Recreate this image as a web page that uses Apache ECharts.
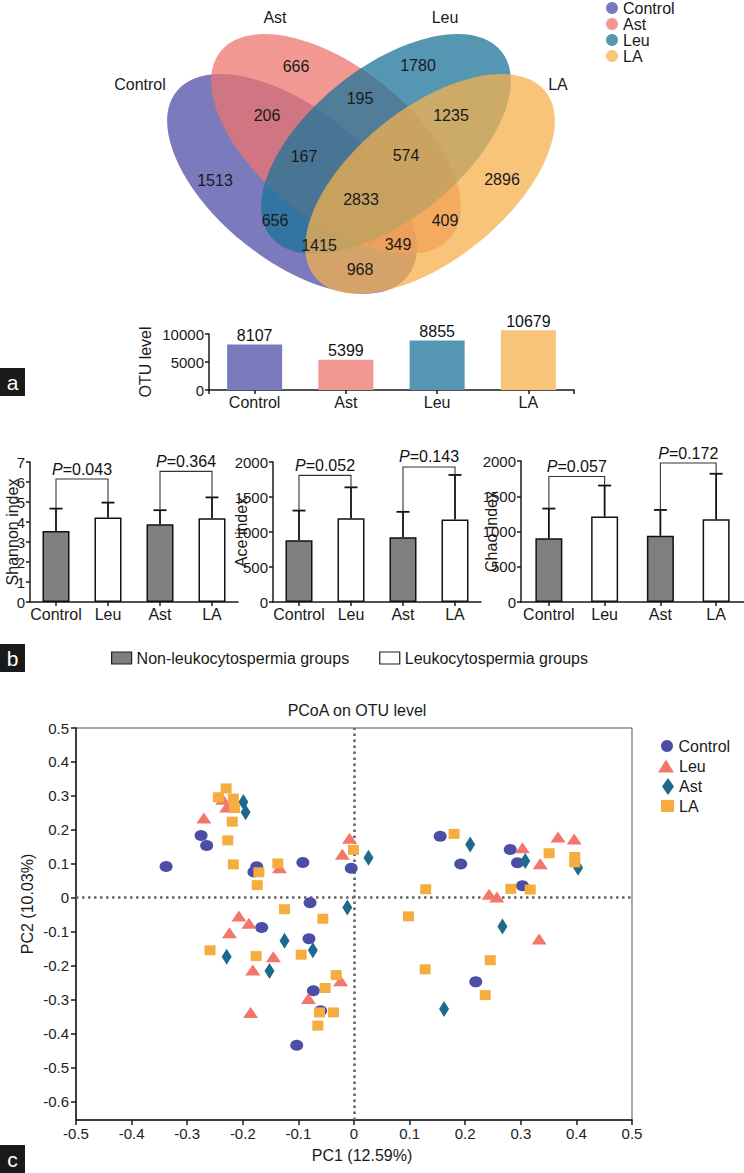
<!DOCTYPE html>
<html><head><meta charset="utf-8">
<script src="https://cdn.jsdelivr.net/npm/echarts@6/dist/echarts.min.js"></script>
<style>html,body{margin:0;padding:0;background:#fff}#c{width:744px;height:1173px}</style>
</head><body><div id="c"></div>
<script>
// ---------------- DATA ----------------
const setNames = ['Control', 'Ast', 'Leu', 'LA'];
const otuTotals = [8107, 5399, 8855, 10679];
const otuTicks = [0, 5000, 10000];

const vennRegionNames = ['Control only', 'Ast only', 'Leu only', 'LA only',
  'Control∩Ast', 'Ast∩Leu', 'Leu∩LA', 'Control∩Leu', 'Ast∩LA', 'Control∩LA',
  'Control∩Ast∩Leu', 'Ast∩Leu∩LA', 'Control∩Leu∩LA', 'Control∩Ast∩LA', 'All'];
const vennCounts = [1513, 666, 1780, 2896, 206, 195, 1235, 656, 409, 968, 167, 574, 1415, 349, 2833];

const diversityCats = ['Control', 'Leu', 'Ast', 'LA'];
const shannonMean = [3.55, 4.22, 3.89, 4.19];
const shannonSD = [1.12, 0.75, 0.70, 1.04];
const shannonBracket = [6.15, 6.53];
const shannonP = ['0.043', '0.364'];
const aceMean = [883, 1197, 926, 1178];
const aceSD = [423, 441, 362, 637];
const aceBracket = [1809, 1929];
const aceP = ['0.052', '0.143'];
const chaoMean = [903, 1211, 940, 1174];
const chaoSD = [422, 441, 366, 645];
const chaoBracket = [1780, 1971];
const chaoP = ['0.057', '0.172'];
const bracketPairs = [[0, 1], [2, 3]];
const groupNames = ['Non-leukocytospermia groups', 'Leukocytospermia groups'];

const pcoaGroups = ['Control', 'Leu', 'Ast', 'LA'];
const pcoaControl = [[-0.338,0.092],[-0.275,0.183],[-0.265,0.154],[-0.175,0.091],[-0.180,0.076],[-0.092,0.104],
  [-0.005,0.087],[-0.079,-0.015],[-0.166,-0.088],[-0.081,-0.121],[-0.073,-0.274],[-0.060,-0.333],[-0.103,-0.435],
  [0.155,0.181],[0.192,0.099],[0.281,0.142],[0.294,0.103],[0.303,0.035],[0.219,-0.248]];
const pcoaLeu = [[-0.270,0.235],[-0.229,0.267],[-0.236,0.290],[-0.134,0.088],[-0.008,0.175],[-0.021,0.128],
  [-0.207,-0.054],[-0.189,-0.075],[-0.224,-0.103],[-0.145,-0.174],[-0.182,-0.213],[-0.082,-0.297],[-0.024,-0.245],
  [-0.186,-0.338],[0.367,0.179],[0.396,0.173],[0.303,0.147],[0.335,0.100],[0.243,0.010],[0.257,0.002],[0.333,-0.122]];
const pcoaAst = [[-0.199,0.282],[-0.195,0.252],[0.026,0.118],[-0.012,-0.029],[-0.125,-0.127],[-0.074,-0.155],
  [-0.229,-0.174],[-0.152,-0.216],[0.209,0.157],[0.308,0.108],[0.403,0.088],[0.267,-0.085],[0.162,-0.328]];
const pcoaLA = [[-0.244,0.296],[-0.230,0.322],[-0.217,0.292],[-0.215,0.264],[-0.219,0.224],[-0.227,0.169],
  [-0.217,0.098],[-0.171,0.075],[-0.174,0.037],[-0.137,0.101],[-0.001,0.141],[-0.125,-0.034],[-0.056,-0.062],
  [-0.259,-0.155],[-0.176,-0.172],[-0.095,-0.168],[-0.032,-0.228],[-0.052,-0.266],[-0.062,-0.338],[-0.037,-0.338],
  [-0.065,-0.377],[0.180,0.188],[0.351,0.131],[0.397,0.120],[0.397,0.104],[0.282,0.026],[0.317,0.024],[0.129,0.025],
  [0.098,-0.055],[0.128,-0.211],[0.245,-0.184],[0.236,-0.287]];
const pcoaXTicks = [-0.5,-0.4,-0.3,-0.2,-0.1,0,0.1,0.2,0.3,0.4,0.5];
const pcoaYTicks = [-0.6,-0.5,-0.4,-0.3,-0.2,-0.1,0,0.1,0.2,0.3,0.4,0.5];

// ---------------- LAYOUT / STYLE ----------------
const FONT = "'Liberation Sans', Arial, Helvetica, sans-serif";
const INK = '#1a1a1a';
const vennFill = ['rgba(78,78,167,0.75)', 'rgba(238,118,111,0.75)', 'rgba(28,116,154,0.75)', 'rgba(244,176,78,0.75)'];
const setColors = ['#7a7abd', '#f29893', '#5597b3', '#f7c47a'];
const vennGeom = [{cx:292, cy:184, dir:-1}, {cx:336, cy:144, dir:-1}, {cx:386, cy:144, dir:1}, {cx:430, cy:184, dir:1}];
const vennRx = 148, vennRy = 76, vennAngle = 38.7 * Math.PI / 180;
const vennLabelPos = [[215,180],[296,66],[418,65],[502,179],[267,115],[360,98],[451,115],[275,220],[445,220],
  [360,269],[304,156],[406,155],[319,245],[398,244],[361,199]];
const vennSetLabelPos = [[140,84],[275,17],[445,17],[558,84]];
const pcoaColors = {Control:'#4b4ea6', Leu:'#f2766b', Ast:'#1d6a8c', LA:'#f6ad3f'};
const pcoaSymbols = {Control:'circle', Leu:'triangle', Ast:'diamond', LA:'rect'};
const pcoaSizes = {Control:[13,11], Leu:[15,11], Ast:[10,16], LA:[11,10]};
const pcoaData = {Control:pcoaControl, Leu:pcoaLeu, Ast:pcoaAst, LA:pcoaLA};

const chart = echarts.init(document.getElementById('c'), null, {renderer:'svg'});

const graphic = [];
vennGeom.forEach((g, i) => {
  graphic.push({type:'ellipse', x:g.cx, y:g.cy, rotation:g.dir * vennAngle,
    shape:{cx:0, cy:0, rx:vennRx, ry:vennRy}, style:{fill:vennFill[i]}});
});
setNames.forEach((n, i) => {
  graphic.push({type:'text', x:vennSetLabelPos[i][0], y:vennSetLabelPos[i][1],
    style:{text:n, fontSize:16, fontFamily:FONT, fill:INK, align:'center', verticalAlign:'middle'}});
});
vennCounts.forEach((v, i) => {
  graphic.push({type:'text', x:vennLabelPos[i][0], y:vennLabelPos[i][1],
    style:{text:String(v), fontSize:16, fontFamily:FONT, fill:INK, align:'center', verticalAlign:'middle'}});
});
[['a', 368], ['b', 644], ['c', 1145]].forEach(([t, y]) => {
  graphic.push({type:'rect', shape:{x:0, y:y, width:25, height:28}, style:{fill:'#1a1a1a'}});
  graphic.push({type:'text', x:12.5, y:y + 14, style:{text:t, fontSize:21, fontFamily:FONT, fill:'#fff', align:'center', verticalAlign:'middle'}});
});
graphic.push({type:'text', x:357, y:710, style:{text:'PCoA on OTU level', fontSize:16, fontFamily:FONT, fill:INK, align:'center', verticalAlign:'middle'}});
// zero reference lines of the PCoA plot are drawn by markLine below

function axisCommon() {
  return {
    axisLine:{show:true, onZero:false, lineStyle:{color:INK, width:1.5}},
    axisTick:{show:true, length:4, lineStyle:{color:INK, width:1.5}},
    axisLabel:{color:INK, fontSize:15, fontFamily:FONT},
    splitLine:{show:false},
    nameMoveOverlap:false,
    nameTextStyle:{color:INK, fontSize:16, fontFamily:FONT}
  };
}
const plain = v => String(v);
function catAxis(grid, data) {
  const a = axisCommon();
  return Object.assign(a, {type:'category', gridIndex:grid, data:data,
    axisTick:{show:true, alignWithLabel:true, length:4, lineStyle:{color:INK, width:1.5}},
    axisLabel:{color:INK, fontSize:16, fontFamily:FONT, interval:0, margin:4}});
}
function valAxis(grid, min, max, interval, name, gap) {
  const a = axisCommon();
  return Object.assign(a, {type:'value', gridIndex:grid, min:min, max:max, interval:interval,
    name:name, nameLocation:'middle', nameGap:gap,
    axisLabel:{color:INK, fontSize:15, fontFamily:FONT, margin:5, formatter:plain}});
}

const errRender = function (params, api) {
  const x = api.value(0), m = api.value(1), sd = api.value(2);
  const p0 = api.coord([x, m]), p1 = api.coord([x, m + sd]);
  const hw = 6.5;
  return {type:'group', children:[
    {type:'line', shape:{x1:p0[0], y1:p0[1], x2:p1[0], y2:p1[1]}, style:{stroke:'#111', lineWidth:1.8}},
    {type:'line', shape:{x1:p1[0] - hw, y1:p1[1], x2:p1[0] + hw, y2:p1[1]}, style:{stroke:'#111', lineWidth:1.8}}
  ]};
};
function bracketRender(labels) {
  return function (params, api) {
    const i = api.value(0), j = api.value(1), h = api.value(2), ti = api.value(3), tj = api.value(4);
    const pi = api.coord([i, ti]), pj = api.coord([j, tj]), ph = api.coord([i, h]);
    return {type:'group', children:[
      {type:'polyline', shape:{points:[[pi[0], pi[1]], [pi[0], ph[1]], [pj[0], ph[1]], [pj[0], pj[1]]]},
        style:{stroke:'#333', lineWidth:1.1, fill:null}},
      {type:'text', x:(pi[0] + pj[0]) / 2, y:ph[1] - 2,
        style:{text:'{i|P}=' + labels[params.dataIndex], fontSize:16, fontFamily:FONT, fill:'#111',
          align:'center', verticalAlign:'bottom',
          rich:{i:{fontStyle:'italic', fontSize:16, fontFamily:FONT, fill:'#111'}}}}
    ]};
  };
}

function diversitySeries(axisIdx, mean, sd, bracketY, pLabels) {
  const out = [];
  out.push({type:'bar', name:groupNames[0], xAxisIndex:axisIdx, barWidth:27, barGap:'-100%',
    data:mean.map((v, i) => i % 2 === 0 ? v : '-'),
    itemStyle:{color:'#7f7f7f', borderColor:'#111', borderWidth:1.5}});
  out.push({type:'bar', name:groupNames[1], xAxisIndex:axisIdx, barWidth:27, barGap:'-100%',
    data:mean.map((v, i) => i % 2 === 1 ? v : '-'),
    itemStyle:{color:'#ffffff', borderColor:'#111', borderWidth:1.5}});
  out.push({type:'custom', xAxisIndex:axisIdx, renderItem:errRender, clip:false, z:5,
    encode:{x:0, y:1}, data:mean.map((v, i) => [i, v, sd[i]])});
  out.push({type:'custom', xAxisIndex:axisIdx, renderItem:bracketRender(pLabels), clip:false, z:5,
    encode:{x:[0, 1], y:[2]},
    data:bracketPairs.map((p, k) => [p[0], p[1], bracketY[k], mean[p[0]] + sd[p[0]], mean[p[1]] + sd[p[1]]])});
  return out;
}

const fmt1 = v => String(Math.round(v * 10) / 10);

const xAxes = [
  catAxis(0, setNames),
  {type:'value', gridIndex:0, min:0, max:1, position:'bottom', axisLine:{show:false}, splitLine:{show:false},
    axisLabel:{show:false}, axisTick:{show:true, length:4, customValues:[0, 1], lineStyle:{color:INK, width:1.5}}},
  catAxis(1, diversityCats),
  catAxis(2, diversityCats),
  catAxis(3, diversityCats),
  Object.assign(axisCommon(), {type:'value', gridIndex:4, min:-0.5, max:0.5, interval:0.1,
    name:'PC1 (12.59%)', nameLocation:'middle', nameGap:27,
    nameTextStyle:{color:INK, fontSize:16, fontFamily:FONT, padding:[0, 0, 0, 16]},
    axisTick:{show:true, length:5, lineStyle:{color:INK, width:1.5}},
    axisLabel:{color:'#222', fontSize:15, fontFamily:FONT, margin:6, formatter:fmt1}})
];
const yAxes = [
  valAxis(0, 0, 10000, 5000, 'OTU level', 56),
  valAxis(1, 0, 7, 1, 'Shannon index', 10),
  valAxis(2, 0, 2000, 500, 'Ace index', 24),
  valAxis(3, 0, 2000, 500, 'Chao index', 22),
  Object.assign(axisCommon(), {type:'value', gridIndex:4, min:-0.655, max:0.5,
    name:'PC2 (10.03%)', nameLocation:'middle', nameGap:41,
    nameTextStyle:{color:INK, fontSize:16, fontFamily:FONT, padding:[0, 0, 0, 40]},
    axisTick:{show:true, length:5, customValues:pcoaYTicks, lineStyle:{color:INK, width:1.5}},
    axisLabel:{color:'#222', fontSize:15, fontFamily:FONT, margin:7, customValues:pcoaYTicks, formatter:fmt1}})
];
// xAxis index mapping: 0 otu, 1 otu-ends, 2 shannon, 3 ace, 4 chao, 5 pcoa
const series = [];
setNames.forEach((n, i) => {
  series.push({type:'bar', name:n, xAxisIndex:0, yAxisIndex:0, barWidth:55, barGap:'-100%', clip:false,
    data:setNames.map((c, j) => j === i ? otuTotals[i] : '-'),
    itemStyle:{color:setColors[i]},
    label:{show:true, position:'top', distance:1, color:'#111', fontSize:16, fontFamily:FONT}});
});
diversitySeries(2, shannonMean, shannonSD, shannonBracket, shannonP).forEach(s => { s.yAxisIndex = 1; series.push(s); });
diversitySeries(3, aceMean, aceSD, aceBracket, aceP).forEach(s => { s.yAxisIndex = 2; series.push(s); });
diversitySeries(4, chaoMean, chaoSD, chaoBracket, chaoP).forEach(s => { s.yAxisIndex = 3; series.push(s); });
pcoaGroups.forEach((g, k) => {
  const s = {type:'scatter', name:g, xAxisIndex:5, yAxisIndex:4, z:3,
    symbol:pcoaSymbols[g], symbolSize:pcoaSizes[g], data:pcoaData[g],
    itemStyle:{color:pcoaColors[g], opacity:1}};
  if (k === 0) {
    s.markLine = {silent:true, symbol:'none', animation:false, z:1, label:{show:false},
      emphasis:{disabled:true},
      lineStyle:{color:'#666', width:2.6, type:[2.5, 3.5], opacity:1},
      data:[{xAxis:0, lineStyle:{color:'#666', width:2.6, type:[2.5, 3.5]}},
            {yAxis:0, lineStyle:{color:'#666', width:2.6, type:[2.5, 3.5]}}]};
  }
  series.push(s);
});

const legends = [
  {orient:'vertical', left:606, top:0, padding:0, itemWidth:12, itemHeight:12, itemGap:0,
    textStyle:{color:INK, fontSize:16, fontFamily:FONT},
    data:setNames.map((n, i) => ({name:n, icon:'circle', itemStyle:{color:setColors[i]}}))},
  {orient:'horizontal', left:111, top:650, padding:0, itemWidth:20, itemHeight:12, itemGap:30,
    textStyle:{color:INK, fontSize:16, fontFamily:FONT},
    data:[{name:groupNames[0], icon:'rect', itemStyle:{color:'#7f7f7f', borderColor:'#222', borderWidth:1.2}},
          {name:groupNames[1], icon:'rect', itemStyle:{color:'#fff', borderColor:'#222', borderWidth:1.2}}]}
];
const pcoaLegendIcon = {Control:[13,12], Leu:[16,13], Ast:[12,17], LA:[13,12]};
pcoaGroups.forEach((g, k) => {
  const wh = pcoaLegendIcon[g];
  legends.push({orient:'vertical', left:674 - wh[0], top:738 + k * 20, padding:0,
    itemWidth:wh[0], itemHeight:wh[1],
    textStyle:{color:INK, fontSize:16, fontFamily:FONT},
    data:[{name:g, icon:pcoaSymbols[g], itemStyle:{color:pcoaColors[g]}}]});
});

chart.setOption({
  animation:false,
  backgroundColor:'#fff',
  textStyle:{fontFamily:FONT},
  grid:[
    {left:209, top:334, width:365, height:56, outerBoundsMode:'none'},
    {left:30, top:462, width:208, height:140, outerBoundsMode:'none'},
    {left:273, top:462, width:208, height:140, outerBoundsMode:'none'},
    {left:521, top:461, width:223, height:141, outerBoundsMode:'none'},
    {left:76, top:728, width:556, height:392, show:true, borderColor:'#555', borderWidth:1,
      backgroundColor:'transparent', outerBoundsMode:'none'}
  ],
  xAxis:xAxes,
  yAxis:yAxes,
  legend:legends,
  graphic:graphic,
  series:series
});
</script></body></html>
